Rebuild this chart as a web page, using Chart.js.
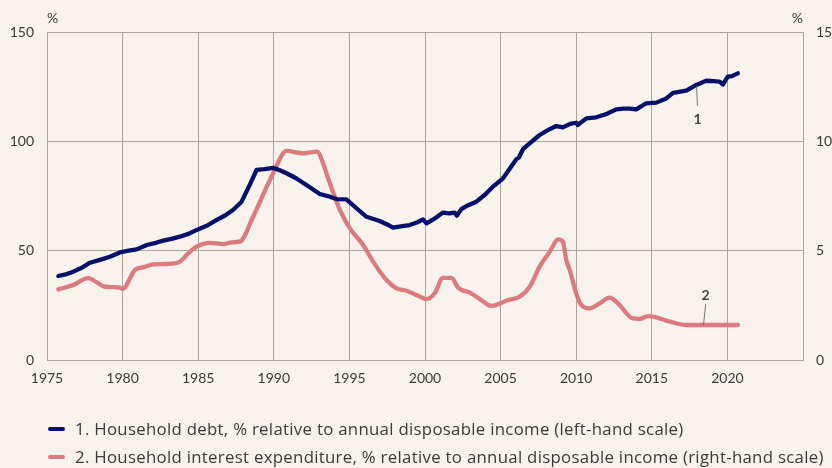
<!DOCTYPE html>
<html>
<head>
<meta charset="utf-8">
<script src="https://cdn.jsdelivr.net/npm/chart.js@4.4.1/dist/chart.umd.min.js"></script>
<style>
  html, body { margin: 0; padding: 0; background: #f8f2ec; }
  canvas { display: block; }
</style>
</head>
<body>
<canvas id="c" width="832" height="468"></canvas>
<script>
// ---- Data ----
const debtYears = [1975.75,1976.3,1976.74,1977.3,1977.84,1978.5,1979.16,1979.82,1980.4,1980.93,1981.6,1982.2,1982.69,1983.3,1983.79,1984.4,1984.9,1985.6,1986.2,1986.8,1987.3,1987.87,1988.4,1988.86,1989.4,1989.96,1990.4,1990.84,1991.5,1992.16,1993.04,1993.7,1994.15,1994.8,1995.47,1996.13,1997.0,1997.5,1997.89,1998.5,1998.99,1999.5,1999.87,2000.1,2000.6,2001.19,2001.6,2001.97,2002.1,2002.4,2002.74,2003.4,2004.0,2004.5,2005.16,2005.6,2006.04,2006.2,2006.48,2007.0,2007.58,2008.1,2008.68,2009.12,2009.6,2010.0,2010.1,2010.67,2011.33,2012.0,2012.65,2013.1,2013.53,2013.97,2014.63,2015.3,2015.96,2016.4,2017.28,2017.94,2018.6,2019.1,2019.48,2019.7,2020.03,2020.3,2020.69];
const debtValues = [38.4,39.3,40.4,42.2,44.5,45.8,47.2,49.2,50.0,50.6,52.6,53.6,54.6,55.5,56.4,57.8,59.5,61.5,64.0,66.2,68.6,72.4,80.0,86.9,87.3,87.9,86.8,85.4,83.0,80.0,75.9,74.7,73.6,73.5,69.4,65.5,63.6,62.0,60.5,61.2,61.7,63.0,64.3,62.5,64.5,67.4,67.0,67.4,66.0,69.0,70.4,72.4,75.8,79.3,83.1,87.5,91.8,92.5,96.4,99.5,102.9,105.0,107.0,106.4,108.0,108.5,107.5,110.5,111.0,112.5,114.6,115.0,115.0,114.6,117.4,117.7,119.6,122.2,123.2,125.8,127.7,127.5,127.3,126.0,129.6,129.8,131.1];

const interestYears = [1975.75,1976.74,1977.73,1978.3,1978.83,1979.82,1980.0,1980.82,1981.4,1982.03,1982.9,1983.8,1984.3,1984.9,1985.77,1986.65,1987.2,1987.75,1988.63,1989.96,1990.84,1991.94,1992.87,1993.26,1993.48,1994.15,1994.37,1995.03,1995.91,1996.57,1997.45,1998.11,1998.77,1999.5,2000.1,2000.64,2001.19,2001.75,2002.19,2002.96,2003.7,2004.4,2005.0,2005.5,2006.27,2006.93,2007.58,2008.25,2008.8,2009.12,2009.35,2009.57,2010.0,2010.3,2010.89,2011.55,2012.21,2012.76,2013.75,2014.2,2014.74,2015.3,2015.96,2016.6,2017.28,2018.0,2019.0,2020.0,2020.69];
const interestValues = [3.23,3.43,3.74,3.55,3.35,3.31,3.25,4.12,4.25,4.37,4.39,4.50,4.85,5.18,5.36,5.30,5.38,5.41,6.55,8.54,9.56,9.45,9.53,9.0,8.54,7.24,6.86,6.02,5.26,4.50,3.66,3.28,3.17,2.95,2.78,3.05,3.76,3.76,3.31,3.08,2.75,2.47,2.60,2.74,2.90,3.35,4.27,4.95,5.52,5.41,4.57,4.12,3.05,2.55,2.36,2.59,2.85,2.59,1.90,1.88,2.01,1.95,1.80,1.68,1.60,1.60,1.60,1.60,1.60];

const seriesLabels = [
  '1. Household debt, % relative to annual disposable income (left-hand scale)',
  '2. Household interest expenditure, % relative to annual disposable income (right-hand scale)'
];
const xTickLabels = ['1975','1980','1985','1990','1995','2000','2005','2010','2015','2020'];
const leftTicks = [0, 50, 100, 150];
const rightTicks = [0, 5, 10, 15];

// Annotation anchors in data units: [label, labelYear, labelValue, lineFromYear, lineFromValue, lineToYear, lineToValue, axis]
const annotations = [
  ['1', 2018.03, 109.8, 2017.96, 125.6, 2018.02, 116.3, 'y'],
  ['2', 2018.56, 2.95, 2018.42, 1.6, 2018.56, 2.55, 'y2']
];

const BG = '#f8f2ec';
const NAVY = '#06106a';
const PINK = '#db7b7f';
const GRID = '#aaa59e';
const TEXT = '#3a3a3a';
const FONT = 'Lato';
const LEGEND_FONT = '"Open Sans"';

const toXY = (xs, ys) => xs.map((x, i) => ({ x, y: ys[i] }));

const bgPlugin = {
  id: 'bg',
  beforeDraw(chart) {
    const ctx = chart.ctx;
    ctx.save();
    ctx.fillStyle = BG;
    ctx.fillRect(0, 0, chart.width, chart.height);
    ctx.restore();
  }
};

const extrasPlugin = {
  id: 'extras',
  afterDraw(chart) {
    const ctx = chart.ctx;
    const ca = chart.chartArea;
    const sx = chart.scales.x;
    ctx.save();
    // % unit labels
    ctx.fillStyle = TEXT;
    ctx.font = '14px ' + FONT;
    ctx.textBaseline = 'middle';
    ctx.textAlign = 'left';
    ctx.fillText('%', ca.left, ca.top - 14);
    ctx.textAlign = 'right';
    ctx.fillText('%', ca.right, ca.top - 14);

    // series annotations
    annotations.forEach(a => {
      const sy = chart.scales[a[7]];
      ctx.strokeStyle = '#555';
      ctx.lineWidth = 0.8;
      ctx.beginPath();
      ctx.moveTo(sx.getPixelForValue(a[3]), sy.getPixelForValue(a[4]));
      ctx.lineTo(sx.getPixelForValue(a[5]), sy.getPixelForValue(a[6]));
      ctx.stroke();
      ctx.fillStyle = '#444';
      ctx.font = 'bold 14px ' + FONT;
      ctx.textAlign = 'center';
      ctx.textBaseline = 'middle';
      ctx.fillText(a[0], sx.getPixelForValue(a[1]), sy.getPixelForValue(a[2]));
    });

    // legend
    const rows = [429, 457];
    chart.data.datasets.forEach((ds, i) => {
      const y = rows[i];
      ctx.strokeStyle = ds.borderColor;
      ctx.lineWidth = 4;
      ctx.lineCap = 'round';
      ctx.beginPath();
      ctx.moveTo(ca.left + 3, y);
      ctx.lineTo(ca.left + 16, y);
      ctx.stroke();
      ctx.fillStyle = TEXT;
      ctx.font = '16.8px ' + LEGEND_FONT;
      if ('letterSpacing' in ctx) ctx.letterSpacing = '0.3px';
      ctx.textAlign = 'left';
      ctx.textBaseline = 'middle';
      ctx.fillText(ds.label, ca.left + 28, y + 1);
      if ('letterSpacing' in ctx) ctx.letterSpacing = '0px';
    });
    ctx.restore();
  }
};

new Chart(document.getElementById('c'), {
  type: 'line',
  data: {
    datasets: [
      {
        label: seriesLabels[0],
        data: toXY(debtYears, debtValues),
        yAxisID: 'y',
        borderColor: NAVY,
        borderWidth: 4.3,
        pointRadius: 0,
        tension: 0,
        borderJoinStyle: 'round',
        borderCapStyle: 'round'
      },
      {
        label: seriesLabels[1],
        data: toXY(interestYears, interestValues),
        yAxisID: 'y2',
        borderColor: PINK,
        borderWidth: 4.3,
        pointRadius: 0,
        cubicInterpolationMode: 'monotone',
        borderJoinStyle: 'round',
        borderCapStyle: 'round'
      }
    ]
  },
  options: {
    responsive: false,
    devicePixelRatio: 1,
    animation: false,
    layout: { padding: { top: 32, bottom: 68, left: 0, right: 0 } },
    plugins: { legend: { display: false }, tooltip: { enabled: false } },
    scales: {
      x: {
        type: 'linear',
        min: 1975,
        max: 2025,
        afterFit: s => { s.height = 40; },
        afterBuildTicks: s => { s.ticks = [1975,1980,1985,1990,1995,2000,2005,2010,2015,2020,2025].map(v => ({ value: v })); },
        ticks: {
          padding: 10,
          color: TEXT,
          font: { family: FONT, size: 14 },
          maxRotation: 0,
          autoSkip: false,
          callback: (v, i) => xTickLabels[i] !== undefined ? xTickLabels[i] : ''
        },
        grid: { color: GRID, lineWidth: 1, drawTicks: false },
        border: { color: GRID, width: 1 }
      },
      y: {
        position: 'left',
        min: 0,
        max: 150,
        afterFit: s => { s.width = 47; },
        afterBuildTicks: s => { s.ticks = leftTicks.map(v => ({ value: v })); },
        ticks: { padding: 13, color: TEXT, font: { family: FONT, size: 14 } },
        grid: { color: GRID, lineWidth: 1, drawTicks: false },
        border: { color: GRID, width: 1 }
      },
      y2: {
        position: 'right',
        min: 0,
        max: 15,
        afterFit: s => { s.width = 29; },
        afterBuildTicks: s => { s.ticks = rightTicks.map(v => ({ value: v })); },
        ticks: { padding: 13, color: TEXT, font: { family: FONT, size: 14 } },
        grid: { drawOnChartArea: false, drawTicks: false },
        border: { color: GRID, width: 1 }
      }
    }
  },
  plugins: [bgPlugin, extrasPlugin]
});
</script>
</body>
</html>
